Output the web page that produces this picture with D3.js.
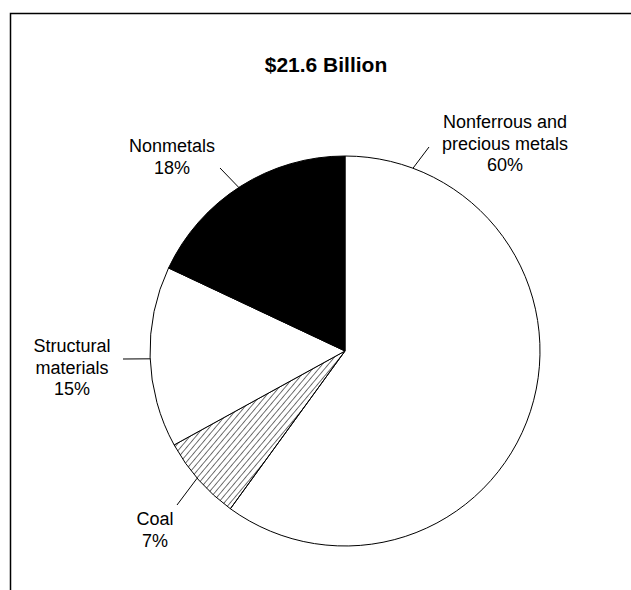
<!DOCTYPE html>
<html>
<head>
<meta charset="utf-8">
<script src="https://cdn.jsdelivr.net/npm/d3@7"></script>
<style>
  html, body { margin: 0; padding: 0; background: #fff; }
  svg { display: block; font-family: "Liberation Sans", Arial, sans-serif; }
</style>
</head>
<body>
<svg id="chart" width="631" height="590"></svg>
<script>
// Market shares by commodity group, clockwise from 12 o'clock
const categories = ["Nonferrous and precious metals", "Coal", "Structural materials", "Nonmetals"];
const shares = [60, 7, 15, 18];
const labelLines = [
  ["Nonferrous and", "precious metals", "60%"],
  ["Coal", "7%"],
  ["Structural", "materials", "15%"],
  ["Nonmetals", "18%"]
];
const title = "$21.6 Billion";

const width = 631, height = 590;
const cx = 345, cy = 351, radius = 195;

const svg = d3.select("#chart");

// hatch pattern for the coal slice
const defs = svg.append("defs");
defs.append("pattern")
  .attr("id", "hatch")
  .attr("patternUnits", "userSpaceOnUse")
  .attr("width", 4.6).attr("height", 10)
  .attr("patternTransform", "rotate(40)")
  .append("line")
  .attr("x1", 0).attr("y1", -1).attr("x2", 0).attr("y2", 11)
  .attr("stroke", "#000").attr("stroke-width", 1.1);

const fills = ["#fff", "url(#hatch)", "#fff", "#000"];

// frame
svg.append("path")
  .attr("d", `M10.5,${height} V13.5 H${width}`)
  .attr("fill", "none").attr("stroke", "#000").attr("stroke-width", 1.5);

// title
svg.append("text")
  .attr("x", 326).attr("y", 72)
  .attr("text-anchor", "middle")
  .attr("font-size", 21).attr("font-weight", "bold")
  .text(title);

const data = categories.map((c, i) => ({ name: c, value: shares[i], lines: labelLines[i] }));

const pie = d3.pie().value(d => d.value).sort(null);
const arcs = pie(data);
const arc = d3.arc().innerRadius(0).outerRadius(radius);

const g = svg.append("g").attr("transform", `translate(${cx},${cy})`);

g.selectAll("path.slice")
  .data(arcs)
  .join("path")
  .attr("class", "slice")
  .attr("d", arc)
  .attr("fill", (d, i) => fills[i])
  .attr("stroke", "#000")
  .attr("stroke-width", 1)
  .attr("stroke-linejoin", "round");

// label placement: leader anchor angle on rim (degrees clockwise from top),
// outer end of the leader, and text centre / first baseline
const layout = [
  { ang: 20.4, end: [429, 147], tx: 505, ty: 128 },
  { ang: 229.3, end: [177, 505], tx: 155, ty: 525 },
  { ang: 267.7, end: [123, 359], tx: 72, ty: 352 },
  { ang: 327, end: [220, 168], tx: 172, ty: 152 }
];
const lineGap = 21.5;

arcs.forEach((a, i) => {
  const L = layout[i];
  const t = L.ang * Math.PI / 180;
  const x0 = cx + radius * Math.sin(t);
  const y0 = cy - radius * Math.cos(t);
  svg.append("line")
    .attr("x1", x0).attr("y1", y0)
    .attr("x2", L.end[0]).attr("y2", L.end[1])
    .attr("stroke", "#000").attr("stroke-width", 1);

  const txt = svg.append("text")
    .attr("text-anchor", "middle")
    .attr("font-size", 18);
  a.data.lines.forEach((ln, j) => {
    txt.append("tspan")
      .attr("x", L.tx)
      .attr("y", L.ty + j * lineGap)
      .text(ln);
  });
});
</script>
</body>
</html>
